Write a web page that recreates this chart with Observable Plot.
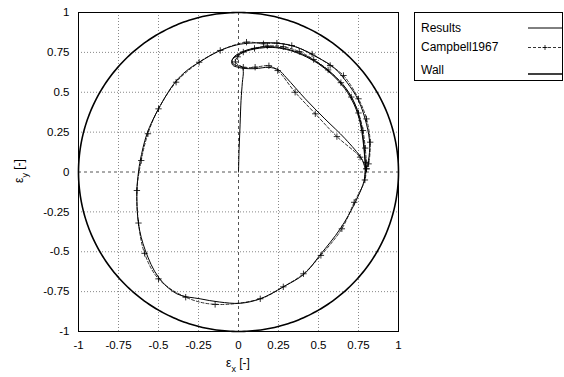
<!DOCTYPE html>
<html>
<head>
<meta charset="utf-8">
<script src="https://cdn.jsdelivr.net/npm/d3@7"></script>
<script src="https://cdn.jsdelivr.net/npm/@observablehq/plot@0.6"></script>
<style>
  body { margin: 0; background: #fff; }
  #chart svg { display: block; }
</style>
</head>
<body>
<div id="chart"></div>
<script>
// Axis ticks (same for both eccentricity axes)
const tickValues = [-1, -0.75, -0.5, -0.25, 0, 0.25, 0.5, 0.75, 1];
const tickLabels = ["-1", "-0.75", "-0.5", "-0.25", "0", "0.25", "0.5", "0.75", "1"];

// Series names shown in the key
const seriesNames = ["Results", "Campbell1967", "Wall"];

// Bearing wall: clearance circle, eccentricity radius
const wallRadius = 1;

// Computed journal orbit [eps_x, eps_y]: start-up from the centre, then the periodic orbit
const resultsOrbit = [
  [0.000, 0.000], [0.004, 0.150], [0.010, 0.300], [0.016, 0.450], [0.024, 0.560], [0.030, 0.630],
  [0.022, 0.660], [-0.010, 0.666], [-0.034, 0.678], [-0.040, 0.700], [-0.028, 0.722], [0.000, 0.742],
  [0.050, 0.764], [0.120, 0.780], [0.200, 0.786], [0.300, 0.772], [0.400, 0.738], [0.500, 0.683],
  [0.590, 0.612], [0.670, 0.527], [0.728, 0.425], [0.764, 0.312], [0.781, 0.200], [0.790, 0.100],
  [0.794, 0.020], [0.786, -0.053], [0.730, -0.190], [0.636, -0.356], [0.510, -0.520], [0.410, -0.640],
  [0.280, -0.720], [0.136, -0.795], [0.010, -0.823], [-0.120, -0.815], [-0.240, -0.795], [-0.385, -0.764],
  [-0.500, -0.660], [-0.583, -0.490], [-0.625, -0.325], [-0.635, -0.116], [-0.625, 0.000], [-0.614, 0.072],
  [-0.572, 0.240], [-0.500, 0.396], [-0.396, 0.563], [-0.323, 0.636], [-0.246, 0.688], [-0.114, 0.762],
  [-0.010, 0.797], [0.073, 0.808], [0.240, 0.808], [0.365, 0.782], [0.490, 0.720], [0.594, 0.657],
  [0.677, 0.563], [0.750, 0.448], [0.800, 0.300], [0.820, 0.177], [0.812, 0.072], [0.796, 0.020],
  [0.770, 0.083], [0.667, 0.208], [0.540, 0.333], [0.417, 0.459], [0.300, 0.590], [0.250, 0.640],
  [0.190, 0.656], [0.104, 0.648], [0.030, 0.650], [-0.005, 0.657], [-0.036, 0.670], [-0.042, 0.698],
  [-0.020, 0.722], [0.010, 0.740], [0.055, 0.760], [0.130, 0.776], [0.210, 0.781], [0.300, 0.768],
  [0.400, 0.733], [0.500, 0.678], [0.588, 0.608], [0.665, 0.522], [0.724, 0.420], [0.760, 0.310],
  [0.778, 0.200], [0.788, 0.100], [0.792, 0.020], [0.786, -0.053]
];

// Measured orbit (Campbell 1967), one period [eps_x, eps_y]
const campbellOrbit = [
  [0.800, 0.020], [0.760, 0.093], [0.615, 0.222], [0.480, 0.365], [0.354, 0.500], [0.245, 0.636],
  [0.190, 0.666], [0.104, 0.657], [0.030, 0.657], [-0.020, 0.690], [-0.005, 0.722], [0.030, 0.752],
  [0.100, 0.775], [0.180, 0.790], [0.280, 0.785], [0.380, 0.755], [0.470, 0.705], [0.560, 0.640],
  [0.640, 0.560], [0.705, 0.470], [0.750, 0.370], [0.778, 0.260], [0.792, 0.150], [0.798, 0.060],
  [0.790, -0.050], [0.723, -0.190], [0.646, -0.356], [0.515, -0.523], [0.406, -0.638], [0.280, -0.720],
  [0.136, -0.795], [-0.146, -0.830], [-0.330, -0.785], [-0.500, -0.670], [-0.587, -0.510], [-0.625, -0.320],
  [-0.635, -0.116], [-0.608, 0.072], [-0.566, 0.240], [-0.500, 0.396], [-0.390, 0.563], [-0.246, 0.688],
  [-0.114, 0.762], [0.050, 0.814], [0.156, 0.804], [0.240, 0.808], [0.333, 0.793], [0.460, 0.740],
  [0.573, 0.668], [0.656, 0.605], [0.750, 0.459], [0.800, 0.333], [0.823, 0.187], [0.813, 0.051],
  [0.800, 0.020]
];

// Wall outline built from its radius
const wall = d3.range(0, 361, 1).map(a => [
  wallRadius * Math.cos(a * Math.PI / 180),
  wallRadius * Math.sin(a * Math.PI / 180)
]);

const font = "'Liberation Sans', Arial, Helvetica, sans-serif";
const fmt = d => tickLabels[tickValues.indexOf(d)];
const nonZero = tickValues.filter(d => d !== 0);

const plot = Plot.plot({
  width: 564,
  height: 377,
  marginLeft: 78,
  marginRight: 166,
  marginTop: 12,
  marginBottom: 46,
  style: { fontFamily: font, fontSize: "11.5px", color: "#000", background: "#fff", overflow: "visible" },
  x: { domain: [-1, 1] },
  y: { domain: [-1, 1] },
  marks: [
    Plot.gridX(nonZero, { stroke: "#888", strokeOpacity: 1, strokeDasharray: "1,2" }),
    Plot.gridY(nonZero, { stroke: "#888", strokeOpacity: 1, strokeDasharray: "1,2" }),
    Plot.ruleX([0], { stroke: "#555", strokeDasharray: "3,3" }),
    Plot.ruleY([0], { stroke: "#555", strokeDasharray: "3,3" }),
    Plot.line(wall, { x: d => d[0], y: d => d[1], stroke: "#000", strokeWidth: 1.6 }),
    Plot.line(campbellOrbit, { x: d => d[0], y: d => d[1], stroke: "#000", strokeWidth: 0.8,
      strokeDasharray: "3,2", curve: "catmull-rom" }),
    Plot.dot(campbellOrbit, { x: d => d[0], y: d => d[1], symbol: "plus", r: 2.2, stroke: "#000", strokeWidth: 0.8 }),
    Plot.line(resultsOrbit, { x: d => d[0], y: d => d[1], stroke: "#000", strokeWidth: 1, curve: "catmull-rom" }),
    Plot.frame({ stroke: "#000", strokeWidth: 1 }),
    Plot.axisX(tickValues, { tickSize: 0, tickPadding: 9, tickFormat: fmt, label: null }),
    Plot.axisY(tickValues, { tickSize: 0, tickPadding: 9, tickFormat: fmt, label: null })
  ]
});

document.getElementById("chart").appendChild(plot);

const svg = d3.select(plot);

// Axis titles with subscripts
const xTitle = svg.append("text")
  .attr("x", 238).attr("y", 367)
  .attr("text-anchor", "middle")
  .style("font-family", font).style("font-size", "12px").attr("fill", "#000");
xTitle.append("tspan").text("ε");
xTitle.append("tspan").attr("baseline-shift", "sub").style("font-size", "9px").text("x");
xTitle.append("tspan").text(" [-]");

const yTitle = svg.append("text")
  .attr("transform", "translate(23,171) rotate(-90)")
  .attr("text-anchor", "middle")
  .style("font-family", font).style("font-size", "12px").attr("fill", "#000");
yTitle.append("tspan").text("ε");
yTitle.append("tspan").attr("baseline-shift", "sub").style("font-size", "9px").text("y");
yTitle.append("tspan").text(" [-]");

// Key box at the top right
const key = svg.append("g").style("font-family", font).style("font-size", "12px")
  .attr("text-anchor", "start");
key.append("rect")
  .attr("x", 414.5).attr("y", 12.5).attr("width", 148).attr("height", 68)
  .attr("fill", "#fff").attr("stroke", "#000").attr("stroke-width", 1);
const rows = [28, 47, 70];
const lineRows = [28, 47.5, 74];
seriesNames.forEach((name, i) => {
  key.append("text").attr("x", 421).attr("y", rows[i]).attr("dy", "0.35em")
    .attr("text-anchor", "start").attr("fill", "#000").text(name);
});
key.append("line").attr("x1", 528).attr("x2", 562).attr("y1", lineRows[0]).attr("y2", lineRows[0])
  .attr("stroke", "#000").attr("stroke-width", 1);
key.append("line").attr("x1", 528).attr("x2", 562).attr("y1", lineRows[1]).attr("y2", lineRows[1])
  .attr("stroke", "#000").attr("stroke-width", 0.8).attr("stroke-dasharray", "3,2");
key.append("path").attr("d", `M542.5,${lineRows[1]}h5M545,${lineRows[1] - 2.5}v5`)
  .attr("stroke", "#000").attr("stroke-width", 0.8);
key.append("line").attr("x1", 528).attr("x2", 562).attr("y1", lineRows[2]).attr("y2", lineRows[2])
  .attr("stroke", "#000").attr("stroke-width", 1.6);
</script>
</body>
</html>
